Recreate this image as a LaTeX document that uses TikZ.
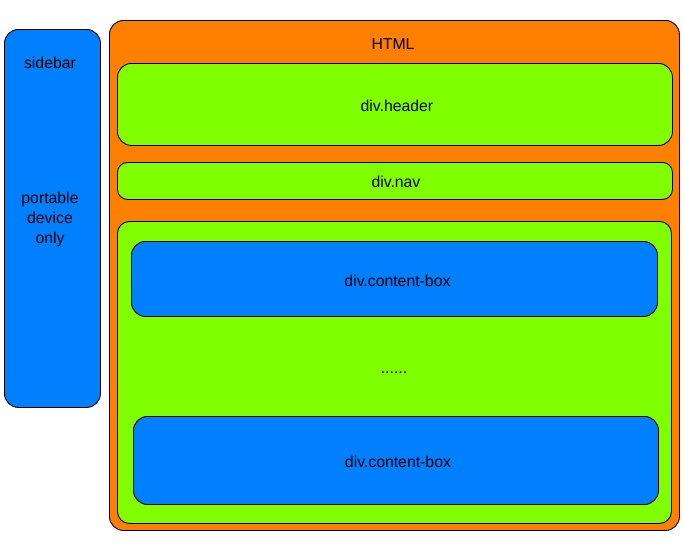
\documentclass[tikz,border=0pt]{standalone}
\usepackage{fontspec}
\setmainfont{Liberation Sans}
\usetikzlibrary{positioning}

\definecolor{sideblue}{HTML}{0080FF}
\definecolor{htmlorange}{HTML}{FF8000}
\definecolor{divgreen}{HTML}{80FF00}

\begin{document}
\begin{tikzpicture}[
    x=1pt, y=-1pt,
    box/.style={
        rectangle,
        draw=black,
        line width=0.9pt,
        rounded corners=14pt,
        anchor=north west,
        inner sep=0pt
    },
    label/.style={
        font=\fontsize{15.8pt}{20pt}\selectfont,
        align=center,
        text=black
    }
]
    \useasboundingbox (0,0) rectangle (684,544);

    % Define boxes
    \node[box, fill=sideblue, minimum width=96pt, minimum height=378pt] (sidebar) at (4,29) {};
    \node[box, fill=htmlorange, minimum width=570pt, minimum height=510pt] (html) at (109,20) {};
    \node[box, fill=divgreen, minimum width=555pt, minimum height=82pt] (header) at (117,63) {};
    \node[box, fill=divgreen, minimum width=555pt, minimum height=37pt, rounded corners=10pt] (nav) at (117,162) {};
    \node[box, fill=divgreen, minimum width=554pt, minimum height=302pt, rounded corners=12pt] (content) at (117,221) {};
    \node[box, fill=sideblue, minimum width=526pt, minimum height=75pt] (boxone) at (131,241) {};
    \node[box, fill=sideblue, minimum width=525pt, minimum height=88pt] (boxtwo) at (133,416) {};

    % Labels
    \node[label] (sidetitle) at (50,63) {sidebar};
    \node[label] (sidenote) at (50,219) {portable\\device\\only};
    \node[label] (htmltitle) at (393,44) {HTML};
    \node[label] at ([xshift=2pt,yshift=-1pt]header) {div.header};
    \node[label] at ([xshift=1pt,yshift=-1pt]nav) {div.nav};
    \node[label] at ([xshift=3pt,yshift=-2pt]boxone) {div.content-box};
    \node[label] (dots) at (394,373) {......};
    \node[label] at ([xshift=2pt,yshift=-1pt]boxtwo) {div.content-box};
\end{tikzpicture}
\end{document}
